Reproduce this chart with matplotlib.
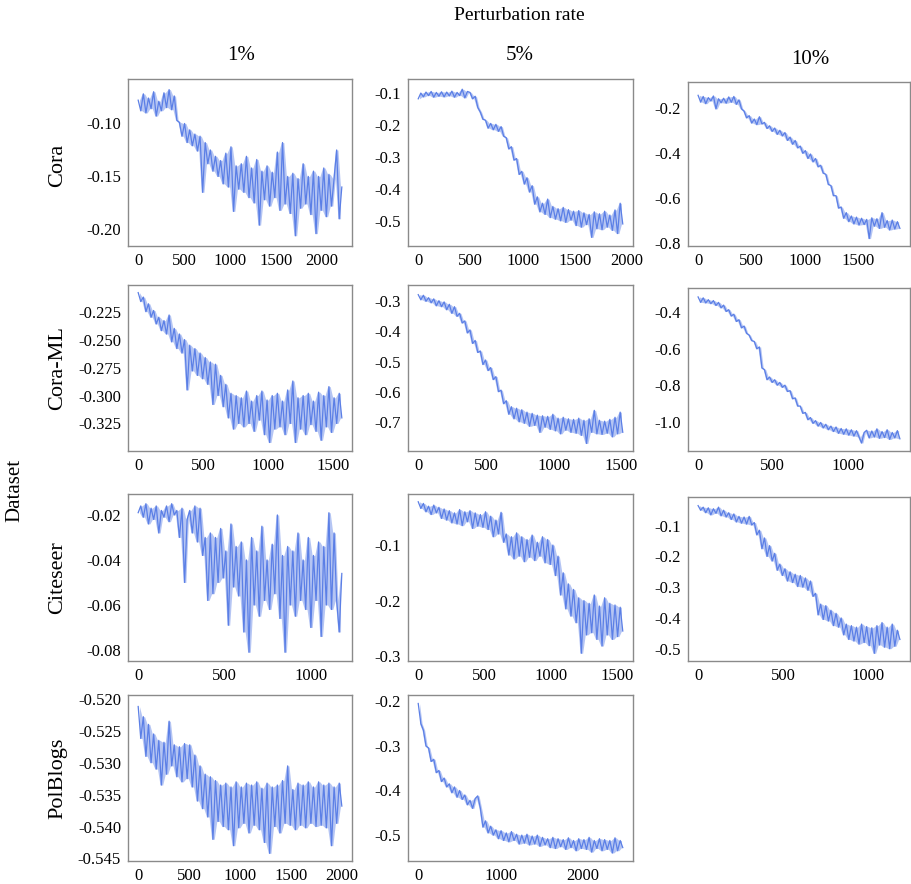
import numpy as np
import matplotlib
matplotlib.use('Agg')
import matplotlib.pyplot as plt

plt.rcParams['font.family'] = 'Liberation Serif'
plt.rcParams['axes.unicode_minus'] = False

rates = ['1%', '5%', '10%']
datasets = ['Cora', 'Cora-ML', 'Citeseer', 'PolBlogs']

# loss curves (evenly spaced over 0..last iteration)
cora_1_last = 2220
cora_1 = [-0.078, -0.088, -0.072, -0.090, -0.076, -0.086, -0.070, -0.093, -0.079, -0.088,
          -0.071, -0.085, -0.068, -0.087, -0.074, -0.097, -0.099, -0.112, -0.100, -0.118,
          -0.106, -0.121, -0.110, -0.126, -0.112, -0.165, -0.118, -0.138, -0.125, -0.145,
          -0.131, -0.150, -0.135, -0.157, -0.128, -0.160, -0.122, -0.183, -0.140, -0.162,
          -0.138, -0.165, -0.131, -0.170, -0.142, -0.175, -0.134, -0.196, -0.145, -0.172,
          -0.140, -0.178, -0.146, -0.170, -0.127, -0.182, -0.118, -0.176, -0.150, -0.185,
          -0.147, -0.206, -0.152, -0.180, -0.138, -0.176, -0.150, -0.186, -0.145, -0.204,
          -0.150, -0.182, -0.142, -0.188, -0.148, -0.178, -0.152, -0.125, -0.190, -0.160]

cora_5_last = 1960
cora_5 = [-0.118, -0.100, -0.112, -0.097, -0.108, -0.095, -0.113, -0.098, -0.110, -0.096,
          -0.112, -0.097, -0.109, -0.094, -0.113, -0.098, -0.108, -0.088, -0.115, -0.095,
          -0.098, -0.118, -0.110, -0.145, -0.160, -0.182, -0.185, -0.210, -0.195, -0.215,
          -0.198, -0.220, -0.205, -0.235, -0.240, -0.275, -0.268, -0.310, -0.305, -0.355,
          -0.345, -0.385, -0.365, -0.410, -0.390, -0.448, -0.425, -0.472, -0.445, -0.480,
          -0.432, -0.490, -0.455, -0.495, -0.462, -0.500, -0.458, -0.505, -0.465, -0.498,
          -0.470, -0.515, -0.468, -0.520, -0.475, -0.512, -0.480, -0.552, -0.472, -0.525,
          -0.478, -0.528, -0.470, -0.520, -0.482, -0.530, -0.466, -0.540, -0.445, -0.510]

cora_10_last = 1890
cora_10 = [-0.145, -0.175, -0.150, -0.182, -0.155, -0.170, -0.148, -0.205, -0.160, -0.178,
           -0.158, -0.180, -0.152, -0.176, -0.150, -0.185, -0.165, -0.205, -0.215, -0.245,
           -0.235, -0.268, -0.250, -0.275, -0.240, -0.272, -0.265, -0.292, -0.280, -0.305,
           -0.290, -0.318, -0.300, -0.325, -0.310, -0.345, -0.330, -0.362, -0.345, -0.378,
           -0.370, -0.402, -0.390, -0.425, -0.405, -0.440, -0.425, -0.462, -0.455, -0.490,
           -0.495, -0.540, -0.545, -0.590, -0.590, -0.645, -0.640, -0.690, -0.665, -0.705,
           -0.680, -0.715, -0.685, -0.720, -0.690, -0.718, -0.695, -0.780, -0.688, -0.725,
           -0.692, -0.735, -0.665, -0.730, -0.700, -0.742, -0.698, -0.738, -0.705, -0.735]

coraml_1_last = 1570
coraml_1 = [-0.208, -0.216, -0.212, -0.225, -0.218, -0.230, -0.224, -0.236, -0.230, -0.242,
            -0.233, -0.245, -0.228, -0.252, -0.240, -0.258, -0.245, -0.262, -0.250, -0.295,
            -0.255, -0.278, -0.258, -0.282, -0.262, -0.285, -0.266, -0.290, -0.270, -0.308,
            -0.272, -0.300, -0.282, -0.310, -0.290, -0.320, -0.298, -0.330, -0.300, -0.325,
            -0.302, -0.328, -0.296, -0.325, -0.305, -0.332, -0.300, -0.322, -0.296, -0.335,
            -0.304, -0.342, -0.300, -0.330, -0.298, -0.328, -0.305, -0.335, -0.295, -0.325,
            -0.287, -0.342, -0.302, -0.330, -0.300, -0.335, -0.298, -0.326, -0.305, -0.332,
            -0.297, -0.340, -0.300, -0.328, -0.292, -0.333, -0.302, -0.325, -0.298, -0.320]

coraml_5_last = 1510
coraml_5 = [-0.278, -0.295, -0.280, -0.300, -0.288, -0.305, -0.292, -0.315, -0.298, -0.318,
            -0.302, -0.328, -0.310, -0.340, -0.318, -0.350, -0.340, -0.372, -0.365, -0.405,
            -0.395, -0.440, -0.430, -0.470, -0.465, -0.510, -0.495, -0.530, -0.520, -0.560,
            -0.550, -0.600, -0.595, -0.640, -0.630, -0.675, -0.650, -0.690, -0.655, -0.700,
            -0.660, -0.705, -0.668, -0.715, -0.672, -0.712, -0.678, -0.735, -0.680, -0.718,
            -0.682, -0.725, -0.675, -0.730, -0.688, -0.740, -0.685, -0.728, -0.690, -0.735,
            -0.692, -0.738, -0.688, -0.745, -0.695, -0.772, -0.690, -0.735, -0.662, -0.740,
            -0.695, -0.742, -0.698, -0.738, -0.692, -0.750, -0.685, -0.740, -0.668, -0.735]

coraml_10_last = 1350
coraml_10 = [-0.315, -0.345, -0.320, -0.348, -0.330, -0.352, -0.335, -0.362, -0.345, -0.375,
             -0.360, -0.395, -0.385, -0.420, -0.410, -0.450, -0.440, -0.485, -0.475, -0.515,
             -0.525, -0.555, -0.560, -0.600, -0.590, -0.705, -0.715, -0.770, -0.755, -0.785,
             -0.770, -0.800, -0.785, -0.812, -0.800, -0.835, -0.830, -0.875, -0.870, -0.915,
             -0.915, -0.955, -0.950, -0.990, -0.978, -1.010, -0.995, -1.025, -1.005, -1.035,
             -1.015, -1.045, -1.025, -1.055, -1.030, -1.065, -1.038, -1.070, -1.040, -1.075,
             -1.045, -1.080, -1.050, -1.085, -1.118, -1.060, -1.048, -1.090, -1.052, -1.085,
             -1.040, -1.092, -1.055, -1.088, -1.045, -1.098, -1.060, -1.090, -1.050, -1.095]

citeseer_1_last = 1175
citeseer_1 = [-0.019, -0.016, -0.021, -0.015, -0.024, -0.017, -0.022, -0.016, -0.028, -0.018,
              -0.021, -0.016, -0.023, -0.015, -0.020, -0.018, -0.030, -0.017, -0.050, -0.022,
              -0.018, -0.028, -0.016, -0.032, -0.017, -0.038, -0.030, -0.058, -0.028, -0.055,
              -0.030, -0.050, -0.026, -0.048, -0.036, -0.069, -0.024, -0.052, -0.034, -0.056,
              -0.032, -0.072, -0.040, -0.081, -0.030, -0.060, -0.036, -0.065, -0.025, -0.058,
              -0.040, -0.062, -0.033, -0.055, -0.020, -0.066, -0.038, -0.081, -0.034, -0.060,
              -0.036, -0.065, -0.028, -0.058, -0.040, -0.062, -0.030, -0.070, -0.038, -0.058,
              -0.032, -0.074, -0.034, -0.060, -0.019, -0.062, -0.028, -0.058, -0.072, -0.046]

citeseer_5_last = 1545
citeseer_5 = [-0.022, -0.034, -0.025, -0.040, -0.030, -0.045, -0.028, -0.042, -0.032, -0.052,
              -0.035, -0.055, -0.038, -0.060, -0.042, -0.062, -0.036, -0.065, -0.040, -0.058,
              -0.038, -0.070, -0.042, -0.066, -0.045, -0.068, -0.040, -0.072, -0.048, -0.085,
              -0.055, -0.080, -0.041, -0.095, -0.080, -0.118, -0.085, -0.125, -0.078, -0.120,
              -0.085, -0.130, -0.090, -0.122, -0.082, -0.128, -0.095, -0.120, -0.085, -0.132,
              -0.090, -0.135, -0.100, -0.155, -0.120, -0.190, -0.150, -0.215, -0.170, -0.228,
              -0.180, -0.240, -0.195, -0.295, -0.200, -0.262, -0.205, -0.258, -0.190, -0.270,
              -0.210, -0.282, -0.195, -0.262, -0.205, -0.270, -0.208, -0.265, -0.212, -0.255]

citeseer_10_last = 1185
citeseer_10 = [-0.035, -0.050, -0.040, -0.058, -0.042, -0.065, -0.045, -0.060, -0.040, -0.068,
               -0.050, -0.072, -0.058, -0.080, -0.062, -0.088, -0.070, -0.092, -0.072, -0.095,
               -0.070, -0.098, -0.090, -0.130, -0.115, -0.175, -0.140, -0.200, -0.165, -0.215,
               -0.190, -0.245, -0.225, -0.262, -0.240, -0.280, -0.250, -0.285, -0.258, -0.298,
               -0.262, -0.300, -0.270, -0.310, -0.280, -0.330, -0.320, -0.390, -0.355, -0.405,
               -0.360, -0.410, -0.375, -0.425, -0.385, -0.430, -0.400, -0.455, -0.420, -0.470,
               -0.425, -0.475, -0.430, -0.485, -0.420, -0.480, -0.428, -0.490, -0.432, -0.515,
               -0.425, -0.488, -0.415, -0.495, -0.430, -0.500, -0.420, -0.492, -0.440, -0.470]

polblogs_1_last = 2000
polblogs_1 = [-0.5212, -0.5262, -0.5228, -0.5290, -0.5240, -0.5300, -0.5255, -0.5310, -0.5265, -0.5335,
              -0.5268, -0.5318, -0.5235, -0.5305, -0.5272, -0.5322, -0.5275, -0.5330, -0.5270, -0.5325,
              -0.5272, -0.5338, -0.5288, -0.5360, -0.5305, -0.5372, -0.5318, -0.5385, -0.5322, -0.5420,
              -0.5328, -0.5392, -0.5335, -0.5400, -0.5332, -0.5405, -0.5338, -0.5430, -0.5330, -0.5402,
              -0.5338, -0.5395, -0.5332, -0.5410, -0.5335, -0.5398, -0.5330, -0.5405, -0.5340, -0.5425,
              -0.5332, -0.5442, -0.5338, -0.5400, -0.5335, -0.5410, -0.5328, -0.5395, -0.5305, -0.5398,
              -0.5342, -0.5405, -0.5332, -0.5398, -0.5335, -0.5402, -0.5330, -0.5395, -0.5338, -0.5400,
              -0.5330, -0.5398, -0.5335, -0.5402, -0.5332, -0.5430, -0.5338, -0.5395, -0.5332, -0.5368]

polblogs_5_last = 2480
polblogs_5 = [-0.205, -0.250, -0.265, -0.300, -0.305, -0.335, -0.330, -0.360, -0.355, -0.380,
              -0.372, -0.392, -0.385, -0.405, -0.392, -0.415, -0.400, -0.420, -0.410, -0.432,
              -0.422, -0.440, -0.418, -0.412, -0.440, -0.482, -0.468, -0.495, -0.480, -0.500,
              -0.488, -0.508, -0.490, -0.512, -0.495, -0.515, -0.492, -0.512, -0.498, -0.520,
              -0.500, -0.518, -0.498, -0.522, -0.502, -0.520, -0.500, -0.525, -0.505, -0.522,
              -0.508, -0.528, -0.505, -0.530, -0.508, -0.526, -0.510, -0.532, -0.506, -0.528,
              -0.512, -0.535, -0.508, -0.530, -0.510, -0.532, -0.505, -0.538, -0.512, -0.530,
              -0.508, -0.535, -0.510, -0.532, -0.512, -0.540, -0.506, -0.535, -0.512, -0.528]

# (row, col): values, last iter, ylim, yticks, tick format, xticks
panels = {
    (0, 0): (cora_1, cora_1_last, (-0.2157, -0.058), [-0.20, -0.15, -0.10], '%.2f', [0, 500, 1000, 1500, 2000]),
    (0, 1): (cora_5, cora_5_last, (-0.579, -0.056), [-0.5, -0.4, -0.3, -0.2, -0.1], '%.1f', [0, 500, 1000, 1500, 2000]),
    (0, 2): (cora_10, cora_10_last, (-0.813, -0.086), [-0.8, -0.6, -0.4, -0.2], '%.1f', [0, 500, 1000, 1500]),
    (1, 0): (coraml_1, coraml_1_last, (-0.3496, -0.2012), [-0.325, -0.300, -0.275, -0.250, -0.225], '%.3f', [0, 500, 1000, 1500]),
    (1, 1): (coraml_5, coraml_5_last, (-0.797, -0.246), [-0.7, -0.6, -0.5, -0.4, -0.3], '%.1f', [0, 500, 1000, 1500]),
    (1, 2): (coraml_10, coraml_10_last, (-1.162, -0.266), [-1.0, -0.8, -0.6, -0.4], '%.1f', [0, 500, 1000]),
    (2, 0): (citeseer_1, citeseer_1_last, (-0.0849, -0.0107), [-0.08, -0.06, -0.04, -0.02], '%.2f', [0, 500, 1000]),
    (2, 1): (citeseer_5, citeseer_5_last, (-0.309, -0.008), [-0.3, -0.2, -0.1], '%.1f', [0, 500, 1000, 1500]),
    (2, 2): (citeseer_10, citeseer_10_last, (-0.540, -0.007), [-0.5, -0.4, -0.3, -0.2, -0.1], '%.1f', [0, 500, 1000]),
    (3, 0): (polblogs_1, polblogs_1_last, (-0.5454, -0.5194), [-0.545, -0.540, -0.535, -0.530, -0.525, -0.520], '%.3f', [0, 500, 1000, 1500, 2000]),
    (3, 1): (polblogs_5, polblogs_5_last, (-0.558, -0.186), [-0.5, -0.4, -0.3, -0.2], '%.1f', [0, 1000, 2000]),
}

W, H = 912, 884
fig = plt.figure(figsize=(W / 100, H / 100), dpi=100)

col_left = [128, 408, 688]
col_width = [224, 225, 222]
row_top = [79, 285, 494, 695]
row_bot = [246, 451, 661, 861]
line_color = '#5b7fe6'

for (r, c), (vals, last, ylim, yt, fmt, xt) in panels.items():
    top = row_top[r] + (3 if c == 2 else 0)
    ax = fig.add_axes([col_left[c] / W, 1 - row_bot[r] / H,
                       col_width[c] / W, (row_bot[r] - top) / H])
    v = np.array(vals)
    x = np.linspace(0, last, len(v))
    # shade the range spanned between neighbouring samples so the noise reads as a band
    lo = np.minimum(v[:-1], v[1:])
    hi = np.maximum(v[:-1], v[1:])
    xm = (x[:-1] + x[1:]) / 2
    ax.fill_between(xm, lo, hi, color=line_color, alpha=0.45, lw=0)
    ax.plot(x, v, color=line_color, lw=0.9)
    ax.set_xlim(-0.05 * last, 1.05 * last)
    ax.set_ylim(*ylim)
    ax.set_xticks(xt)
    ax.set_yticks(yt)
    ax.set_yticklabels([fmt % t for t in yt])
    ax.tick_params(length=0, labelsize=12, pad=5)
    for s in ax.spines.values():
        s.set_color('#8a8a8a')
        s.set_linewidth(1.0)

fig.text(519 / W, 1 - 15 / H, 'Perturbation rate', ha='center', va='center', fontsize=14)
for x, y, t in zip([241, 520, 810], [55, 55, 60], rates):
    fig.text(x / W, 1 - y / H, t, ha='center', va='center', fontsize=15)
for y, t in zip([165, 368, 578, 778], datasets):
    fig.text(58 / W, 1 - y / H, t, ha='center', va='center', rotation=90, fontsize=16)
fig.text(15 / W, 1 - 490 / H, 'Dataset', ha='center', va='center', rotation=90, fontsize=15)

fig.savefig('out.png', dpi=100)
